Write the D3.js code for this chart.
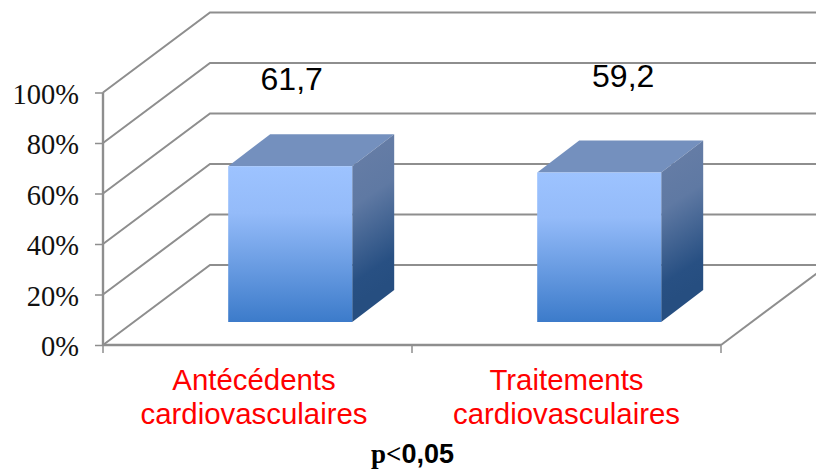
<!DOCTYPE html>
<html>
<head>
<meta charset="utf-8">
<script src="https://cdn.jsdelivr.net/npm/d3@7"></script>
<style>
html, body { margin: 0; padding: 0; background: #fff; }
svg { display: block; }
</style>
</head>
<body>
<div class="content"></div>
<script>
var categories = ["Antécédents|cardiovasculaires", "Traitements|cardiovasculaires"];
var values = [61.7, 59.2];
var valueLabels = ["61,7", "59,2"];
var percentTicks = [0, 20, 40, 60, 80, 100];

var svgWidth = 816;
var svgHeight = 472;

var wallDx = 107;  // Offset of the back wall from the front of the floor.
var wallDy = -80;
var barDx = 42;  // Depth of the bars.
var barDy = -32;
var barShiftX = 32.7;  // Bars stand in the middle of the floor.
var barShiftY = -23;
var barWidth = 124;
var labelColor = "#ff0000";
var gridColor = "#8e8e8e";

var x = d3.scaleBand().domain(categories).range([103, 721]);
var y = d3.scaleLinear().domain([0, 100]).range([345, 92.5]);

var svg = d3.select(".content")
	.append("svg")
	.attr("width", svgWidth)
	.attr("height", svgHeight);

// Gradients for the bar faces.
var defs = svg.append("defs");
var front = defs.append("linearGradient").attr("id", "front")
	.attr("x1", 0).attr("y1", 0).attr("x2", 0).attr("y2", 1);
front.append("stop").attr("offset", "0%").attr("stop-color", "#9dc3ff");
front.append("stop").attr("offset", "30%").attr("stop-color", "#94bbf9");
front.append("stop").attr("offset", "100%").attr("stop-color", "#3c7bca");
var side = defs.append("linearGradient").attr("id", "side")
	.attr("x1", 0).attr("y1", 0.1).attr("x2", 0.12).attr("y2", 0.9);
side.append("stop").attr("offset", "0%").attr("stop-color", "#667da6");
side.append("stop").attr("offset", "35%").attr("stop-color", "#5f79a3");
side.append("stop").attr("offset", "85%").attr("stop-color", "#285083");
side.append("stop").attr("offset", "100%").attr("stop-color", "#264e80");

// Back wall grid lines and their slanted parts on the side wall.
svg.append("g").selectAll("path")
	.data(percentTicks)
	.join("path")
	.attr("fill", "none")
	.attr("stroke", gridColor)
	.attr("stroke-width", 2)
	.attr("d", function(d) {
		return "M" + x.range()[0] + "," + y(d) + "L" + (x.range()[0] + wallDx) + "," + (y(d) + wallDy) + "L" + svgWidth + "," + (y(d) + wallDy);
	});

// Floor edge on the right.
svg.append("path")
	.attr("fill", "none")
	.attr("stroke", gridColor)
	.attr("stroke-width", 2)
	.attr("d", "M" + x.range()[1] + "," + y(0) + "L" + (x.range()[1] + wallDx) + "," + (y(0) + wallDy));

// Value axis.
var yAxis = svg.append("g")
	.attr("transform", "translate(103,0)")
	.call(d3.axisLeft(y).tickValues(percentTicks).tickSize(8).tickPadding(16).tickFormat(function(d) { return d + "%"; }));
yAxis.select(".domain").attr("stroke", gridColor).attr("stroke-width", 2.4).attr("d", "M0," + y(100) + "V" + y(0));
yAxis.selectAll(".tick line").attr("stroke", gridColor).attr("stroke-width", 1.5);
yAxis.selectAll(".tick text")
	.attr("font-family", "'Liberation Serif', serif")
	.attr("font-size", 28.5)
	.attr("dy", 10.5)
	.attr("fill", "#111");

// Category axis, ticks fall between the bands.
var xAxis = svg.append("g")
	.attr("transform", "translate(0," + y(0) + ")");
xAxis.append("path")
	.attr("stroke", gridColor)
	.attr("stroke-width", 2.4)
	.attr("d", "M" + x.range()[0] + ",0H" + x.range()[1]);
xAxis.selectAll("line")
	.data([x.range()[0], x.range()[0] + x.bandwidth(), x.range()[1]])
	.join("line")
	.attr("x1", function(d) { return d; })
	.attr("x2", function(d) { return d; })
	.attr("y1", 0)
	.attr("y2", 8)
	.attr("stroke", gridColor)
	.attr("stroke-width", 1.5);

// Bars, each made of a top, a side and a front face.
var bars = svg.append("g").selectAll("g")
	.data(categories)
	.join("g");

function barLeft(i) { return x(categories[i]) + x.bandwidth() / 2 - barWidth / 2 + barShiftX; }
function barBase() { return y(0) + barShiftY; }
function barTop(i) { return barBase() - (y(0) - y(values[i])); }

bars.append("path")
	.attr("fill", "#7490be")
	.attr("d", function(d, i) {
		var l = barLeft(i), t = barTop(i);
		return "M" + l + "," + t + "l" + barDx + "," + barDy + "h" + barWidth + "l" + (-barDx) + "," + (-barDy) + "Z";
	});
bars.append("path")
	.attr("fill", "url(#side)")
	.attr("d", function(d, i) {
		var r = barLeft(i) + barWidth, t = barTop(i), b = barBase();
		return "M" + r + "," + t + "l" + barDx + "," + barDy + "V" + (b + barDy) + "L" + r + "," + b + "Z";
	});
bars.append("rect")
	.attr("fill", "url(#front)")
	.attr("x", function(d, i) { return barLeft(i); })
	.attr("y", function(d, i) { return barTop(i); })
	.attr("width", barWidth)
	.attr("height", function(d, i) { return barBase() - barTop(i); });

// Value labels float above the bars, the second one was dragged up and to the right.
bars.append("text")
	.attr("x", function(d, i) { return barLeft(i) + barWidth / 2 + (i === 0 ? 1.5 : 24); })
	.attr("y", function(d, i) { return barTop(i) - (i === 0 ? 76 : 85.5); })
	.attr("text-anchor", "middle")
	.attr("font-family", "'Liberation Sans', sans-serif")
	.attr("font-size", 32)
	.attr("fill", "#000")
	.text(function(d, i) { return valueLabels[i]; });

// Category labels on two lines.
var labels = svg.append("g").selectAll("text")
	.data(categories)
	.join("text")
	.attr("text-anchor", "middle")
	.attr("font-family", "'Liberation Sans', sans-serif")
	.attr("font-size", 29.4)
	.attr("fill", labelColor);
labels.selectAll("tspan")
	.data(function(d, i) { return d.split("|").map(function(t) { return { text: t, cat: d, shift: i === 0 ? -3.5 : 0 }; }); })
	.join("tspan")
	.attr("x", function(d) { return x(d.cat) + x.bandwidth() / 2 + d.shift; })
	.attr("y", function(d, i) { return 390 + i * 34; })
	.text(function(d) { return d.text; });

// Significance note.
var note = svg.append("text")
	.attr("x", 371)
	.attr("y", 463)
	.attr("font-weight", "bold")
	.attr("font-size", 27)
	.attr("fill", "#000");
note.append("tspan").attr("font-family", "'Liberation Serif', serif").text("p<");
note.append("tspan").attr("font-family", "'Liberation Sans', sans-serif").text("0,05");
</script>
</body>
</html>
